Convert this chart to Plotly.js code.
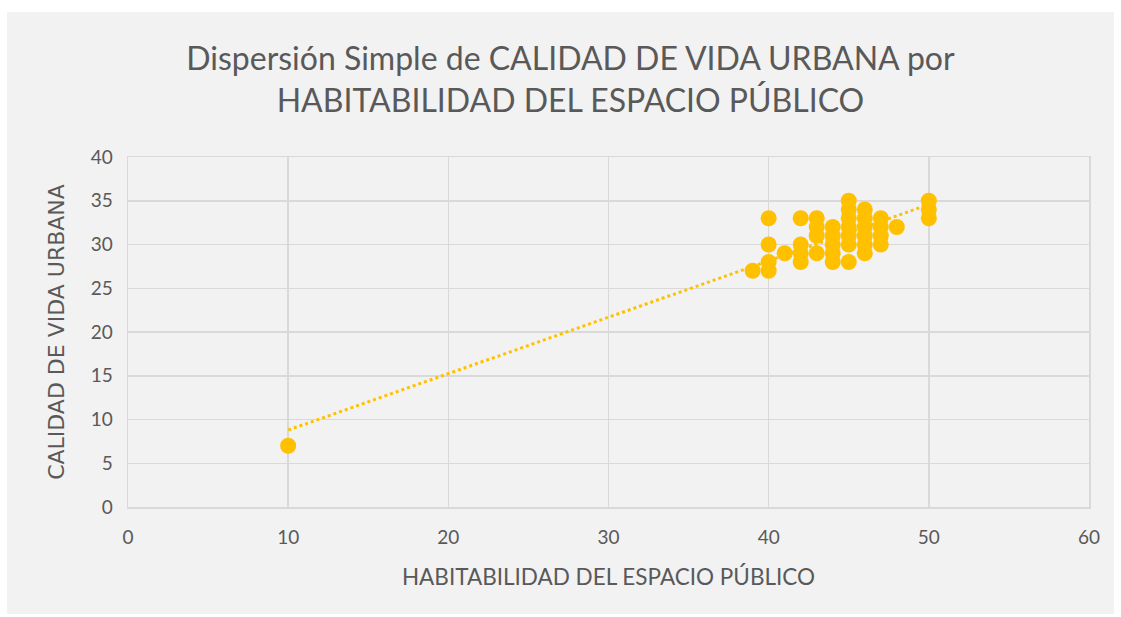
<!DOCTYPE html>
<html>
<head>
<meta charset="utf-8">
<script src="https://cdn.plot.ly/plotly-3.0.1.min.js"></script>
<style>
  html, body { margin: 0; padding: 0; background: #ffffff; }
  #chart { position: absolute; left: 7px; top: 12px; width: 1107px; height: 602px; }
</style>
</head>
<body>
<div id="chart"></div>
<script>
// Habitabilidad del espacio público (x) vs Calidad de vida urbana (y)
const habitabilidad = [10, 39, 40, 40, 40, 40, 41, 42, 42, 42, 42, 43, 43, 43, 43,
  44, 44, 44, 44, 44, 45, 45, 45, 45, 45, 45, 45, 46, 46, 46, 46, 46, 46,
  47, 47, 47, 47, 48, 50, 50, 50];
const calidad = [7, 27, 33, 30, 28, 27, 29, 33, 30, 29, 28, 33, 32, 31, 29,
  32, 31, 30, 29, 28, 35, 34, 33, 32, 31, 30, 28, 34, 33, 32, 31, 30, 29,
  33, 32, 31, 30, 32, 35, 34, 33];
const xTicks = [0, 10, 20, 30, 40, 50, 60];
const yTicks = [0, 5, 10, 15, 20, 25, 30, 35, 40];

// Linear trend line (least squares)
const n = habitabilidad.length;
const mx = habitabilidad.reduce((a, b) => a + b, 0) / n;
const my = calidad.reduce((a, b) => a + b, 0) / n;
let sxy = 0, sxx = 0;
for (let i = 0; i < n; i++) {
  sxy += (habitabilidad[i] - mx) * (calidad[i] - my);
  sxx += (habitabilidad[i] - mx) ** 2;
}
const slope = sxy / sxx;
const intercept = my - slope * mx;
const xmin = Math.min(...habitabilidad), xmax = Math.max(...habitabilidad);
const trendX = [xmin, xmax];
const trendY = trendX.map(v => intercept + slope * v);

const textColor = '#595959';
const gridColor = '#d9d9d9';

const traces = [
  {
    x: trendX, y: trendY, type: 'scatter', mode: 'lines',
    line: { color: '#ffc000', width: 3, dash: 'dot' },
    hoverinfo: 'skip', showlegend: false
  },
  {
    x: habitabilidad, y: calidad, type: 'scatter', mode: 'markers',
    marker: { color: '#ffc000', size: 16, line: { width: 0 } },
    showlegend: false
  }
];

const layout = {
  width: 1107, height: 602,
  paper_bgcolor: '#f2f2f2',
  plot_bgcolor: '#f2f2f2',
  margin: { l: 121, r: 25, t: 145, b: 107 },
  font: { family: 'Lato, "Open Sans", sans-serif', color: textColor },
  title: {
    text: 'Dispersión Simple de CALIDAD DE VIDA URBANA por<br>HABITABILIDAD DEL ESPACIO PÚBLICO',
    font: { size: 32, color: textColor, family: 'Lato, sans-serif' },
    x: 0.509, xanchor: 'center',
    y: 0.903, yanchor: 'middle'
  },
  xaxis: {
    range: [0, 60],
    tickvals: xTicks,
    ticktext: xTicks.map(String),
    showgrid: true, gridcolor: gridColor, gridwidth: 1.5,
    showline: true, linecolor: gridColor, linewidth: 1.5, mirror: true,
    zeroline: false, ticks: '',
    tickfont: { size: 19, color: textColor },
    ticklabelstandoff: 13,
    title: {
      text: 'HABITABILIDAD DEL ESPACIO PÚBLICO',
      font: { size: 22.5, color: textColor },
      standoff: 22
    }
  },
  yaxis: {
    range: [0, 40],
    tickvals: yTicks,
    ticktext: yTicks.map(String),
    showgrid: true, gridcolor: gridColor, gridwidth: 1.5,
    showline: true, linecolor: gridColor, linewidth: 1.5, mirror: true,
    zeroline: false, ticks: '',
    tickfont: { size: 19, color: textColor },
    ticklabelstandoff: 10,
    title: {
      text: 'CALIDAD DE VIDA URBANA',
      font: { size: 22, color: textColor, family: '"DejaVu Sans", sans-serif' },
      standoff: 20
    }
  }
};

Plotly.newPlot('chart', traces, layout, { displayModeBar: false, staticPlot: true });
</script>
</body>
</html>
